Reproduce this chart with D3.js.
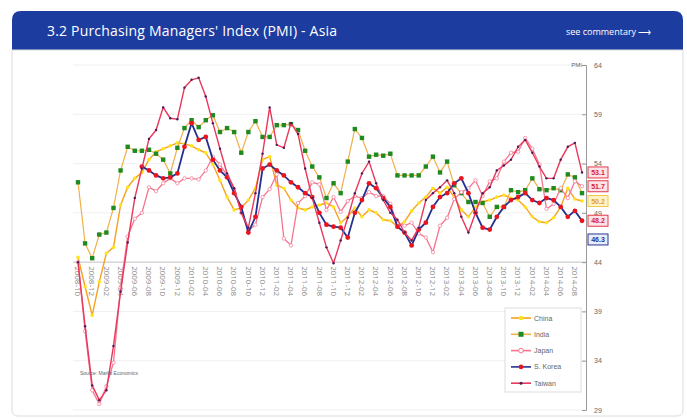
<!DOCTYPE html>
<meta charset="utf-8">
<head>
    <script type="text/javascript" src="https://d3js.org/d3.v7.min.js"></script>
    <style>
        body { margin: 0; background: #fff; font-family: "Open Sans", "Noto Sans", sans-serif; }
    </style>
</head>
<body>
<div id="chart"></div>
<script>
    // categories (monthly, Oct 2008 - Sep 2014)
    var months = [
        "2008-10", "2008-11", "2008-12",
        "2009-01", "2009-02", "2009-03", "2009-04", "2009-05", "2009-06", "2009-07", "2009-08", "2009-09", "2009-10", "2009-11", "2009-12",
        "2010-01", "2010-02", "2010-03", "2010-04", "2010-05", "2010-06", "2010-07", "2010-08", "2010-09", "2010-10", "2010-11", "2010-12",
        "2011-01", "2011-02", "2011-03", "2011-04", "2011-05", "2011-06", "2011-07", "2011-08", "2011-09", "2011-10", "2011-11", "2011-12",
        "2012-01", "2012-02", "2012-03", "2012-04", "2012-05", "2012-06", "2012-07", "2012-08", "2012-09", "2012-10", "2012-11", "2012-12",
        "2013-01", "2013-02", "2013-03", "2013-04", "2013-05", "2013-06", "2013-07", "2013-08", "2013-09", "2013-10", "2013-11", "2013-12",
        "2014-01", "2014-02", "2014-03", "2014-04", "2014-05", "2014-06", "2014-07", "2014-08", "2014-09"
    ];

    var china = [44.5, 41.5, 38.6, 42.0, 44.9, 45.5, 49.8, 51.6, 52.5, 53.1, 54.4, 55.2, 55.5, 55.8, 56.1,
        56.0, 55.8, 55.4, 55.1, 53.9, 52.3, 50.6, 49.3, 49.5, 50.3, 51.5, 54.4, 54.7, 51.8, 51.5, 50.3,
        49.5, 49.3, 49.6, 49.8, 50.0, 49.6, 48.0, 48.6, 49.5, 48.6, 49.3, 49.0, 48.3, 48.2, 47.6, 48.1,
        49.2, 50.0, 50.6, 51.5, 51.0, 51.6, 50.6, 49.3, 48.6, 49.6, 50.1, 50.3, 50.6, 50.8, 50.5, 50.3,
        49.6, 48.6, 48.1, 48.0, 48.5, 49.6, 51.5, 50.4, 50.2];

    var india = [52.1, 45.9, 44.4, 46.8, 47.0, 49.5, 53.3, 55.7, 55.3, 55.3, 55.4, 55.0, 54.4, 53.0, 55.6,
        57.6, 58.4, 57.7, 58.4, 58.9, 57.2, 57.6, 57.2, 55.1, 57.2, 58.3, 56.7, 56.7, 57.9, 57.9, 58.0,
        57.4, 55.3, 53.7, 52.6, 50.5, 52.0, 51.0, 54.2, 57.5, 56.6, 54.7, 54.9, 54.8, 55.0, 52.8, 52.8,
        52.8, 52.8, 53.7, 54.7, 53.1, 54.2, 51.8, 51.0, 50.1, 50.1, 50.0, 48.6, 49.6, 49.6, 51.3, 51.1,
        51.3, 52.5, 51.4, 51.3, 51.5, 51.3, 52.9, 52.6, 51.0];

    var japan = [44.0, 37.0, 31.0, 29.6, 31.4, 33.8, 41.4, 46.6, 48.4, 49.0, 51.6, 51.2, 52.0, 52.5, 52.0,
        52.5, 52.5, 52.4, 53.3, 54.7, 53.9, 52.8, 51.4, 49.0, 47.2, 47.8, 50.6, 51.4, 52.9, 46.4, 45.7,
        50.0, 50.7, 52.1, 51.9, 49.3, 50.6, 49.1, 50.2, 50.7, 50.5, 51.1, 50.7, 50.7, 49.9, 47.9, 47.7,
        48.0, 46.9, 46.5, 45.0, 47.7, 48.5, 50.4, 51.1, 51.5, 52.3, 50.7, 52.2, 52.5, 54.2, 55.1, 55.2,
        56.6, 55.5, 53.9, 49.4, 49.9, 51.5, 50.5, 52.2, 51.7];

    var korea = [null, null, null, null, null, null, null, null, null, 53.7, 53.3, 52.8, 52.5, 52.6, 53.0,
        55.7, 58.1, 56.4, 56.7, 54.4, 53.3, 52.6, 51.0, 49.6, 47.0, 48.6, 53.5, 53.9, 53.3, 52.8, 52.1,
        51.6, 51.0, 50.6, 49.0, 47.8, 47.6, 47.5, 46.5, 49.0, 50.3, 52.0, 51.5, 50.5, 49.6, 47.6, 47.0,
        45.7, 47.3, 48.0, 49.6, 50.6, 51.0, 52.0, 52.5, 51.0, 49.0, 47.5, 47.3, 48.6, 49.6, 50.3, 50.6,
        51.0, 50.3, 50.0, 50.5, 50.3, 49.6, 48.6, 49.2, 48.2];

    var taiwan = [44.0, 37.5, 31.5, 30.0, 31.0, 35.5, 41.0, 46.0, 50.5, 53.5, 56.5, 57.4, 59.7, 58.6, 58.5,
        61.7, 62.5, 62.7, 60.8, 58.1, 55.5, 53.0, 51.5, 49.0, 47.5, 51.0, 55.0, 59.7, 55.9, 55.6, 58.1,
        57.0, 53.5, 50.5, 48.0, 45.5, 43.9, 46.2, 48.5, 51.0, 53.0, 54.2, 52.0, 50.3, 49.0, 48.3, 47.0,
        46.2, 47.5, 50.3, 51.0, 51.6, 52.3, 51.0, 48.6, 47.0, 49.0, 51.0, 51.6, 53.3, 53.8, 54.4, 55.7,
        56.4, 55.1, 53.7, 52.5, 52.5, 54.4, 55.7, 56.1, 53.1];

    var seriesNames = ["China", "India", "Japan", "S. Korea", "Taiwan"];
    var yTicks = [29, 34, 39, 44, 49, 54, 59, 64];
    var endValues = [53.1, 51.7, 50.2, 48.2, 46.3];

    var w = 687, h = 419;
    var svg = d3.select("#chart").append("svg").attr("width", w).attr("height", h);

    // header + panel
    svg.append("path")
        .attr("d", "M12,50 L12,20 Q12,11 21,11 L674,11 Q683,11 683,20 L683,50 Z")
        .attr("fill", "#1d3c9f");
    svg.append("path")
        .attr("d", "M12,50 L683,50 L683,410 Q683,416 677,416 L18,416 Q12,416 12,410 Z")
        .attr("fill", "#fff").attr("stroke", "#dcdcdc");
    svg.append("text").attr("x", 47).attr("y", 36)
        .attr("fill", "#fff").style("font-size", "14px")
        .attr("textLength", 290)
        .text("3.2 Purchasing Managers' Index (PMI) - Asia");
    svg.append("text").attr("x", 566).attr("y", 35)
        .attr("fill", "#fff").style("font-size", "9px")
        .text("see commentary \u27F6");

    var x = d3.scalePoint().domain(months).range([78, 582]);
    var y = d3.scaleLinear().domain([29, 64]).range([410, 65]);

    // grid lines
    svg.append("g").selectAll("line").data(yTicks).enter().append("line")
        .attr("x1", 73).attr("x2", 586)
        .attr("y1", d => y(d)).attr("y2", d => y(d))
        .attr("stroke", "#f0f0f0");

    // category axis crossing at 44
    svg.append("line").attr("x1", 73).attr("x2", 586)
        .attr("y1", y(44)).attr("y2", y(44)).attr("stroke", "#c8c8c8");
    svg.append("g").selectAll("text").data(months.filter((m, i) => i % 2 === 0)).enter().append("text")
        .attr("transform", d => "translate(" + (x(d) - 2.8) + "," + (y(44) + 4) + ") rotate(90)")
        .attr("fill", "#888").style("font-size", "8px")
        .text(d => d);

    // value axis on the right
    var yAxis = svg.append("g").attr("transform", "translate(586,0)")
        .call(d3.axisRight(y).tickValues(yTicks).tickSize(-4).tickPadding(8));
    yAxis.select(".domain").attr("stroke", "#999");
    yAxis.selectAll(".tick line").attr("stroke", "#999");
    yAxis.selectAll("text").attr("fill", "#666").style("font-size", "7px").style("font-family", "Liberation Sans");
    svg.append("text").attr("x", 582).attr("y", y(64) + 2).attr("text-anchor", "end")
        .attr("fill", "#666").style("font-size", "6px").style("font-family", "Liberation Sans").text("PMI");

    var line = d3.line().defined(d => d != null)
        .x((d, i) => x(months[i])).y(d => y(d));

    function drawSeries(data, stroke, width) {
        svg.append("path").datum(data).attr("d", line)
            .attr("fill", "none").attr("stroke", stroke).attr("stroke-width", width);
    }
    function points(data) {
        return data.map((v, i) => ({v: v, m: months[i]})).filter(d => d.v != null);
    }

    // China
    drawSeries(china, "#f6a21e", 1.4);
    svg.append("g").selectAll("circle").data(points(china)).enter().append("circle")
        .attr("cx", d => x(d.m)).attr("cy", d => y(d.v)).attr("r", 1.8).attr("fill", "#ffe41a");

    // India
    drawSeries(india, "#f0b04a", 1.2);
    svg.append("g").selectAll("rect").data(points(india)).enter().append("rect")
        .attr("x", d => x(d.m) - 2.2).attr("y", d => y(d.v) - 2.2)
        .attr("width", 4.4).attr("height", 4.4).attr("fill", "#1f8a1f");

    // Japan
    drawSeries(japan, "#f7748f", 1.3);
    svg.append("g").selectAll("circle").data(points(japan)).enter().append("circle")
        .attr("cx", d => x(d.m)).attr("cy", d => y(d.v)).attr("r", 1.7)
        .attr("fill", "#fff").attr("stroke", "#f7748f").attr("stroke-width", 0.7);

    // S. Korea
    drawSeries(korea, "#24308f", 1.8);
    svg.append("g").selectAll("circle").data(points(korea)).enter().append("circle")
        .attr("cx", d => x(d.m)).attr("cy", d => y(d.v)).attr("r", 2.4).attr("fill", "#e8141e");

    // Taiwan
    drawSeries(taiwan, "#e8385c", 1.4);
    svg.append("g").selectAll("circle").data(points(taiwan)).enter().append("circle")
        .attr("cx", d => x(d.m)).attr("cy", d => y(d.v)).attr("r", 1.2).attr("fill", "#4a1d5a");

    // end value boxes
    var boxStyles = [
        {fill: "#fde3e6", stroke: "#e23a4c", text: "#d8203a"},
        {fill: "#fde3e6", stroke: "#e23a4c", text: "#d8203a"},
        {fill: "#fff4c8", stroke: "#f4c64a", text: "#e8a020"},
        {fill: "#fde3e6", stroke: "#e23a4c", text: "#d8203a"},
        {fill: "#e9ecfb", stroke: "#2a3592", text: "#2a3592"}
    ];
    var boxes = svg.append("g").selectAll("g").data(endValues).enter().append("g")
        .attr("transform", d => "translate(588," + y(d) + ")");
    boxes.append("rect").attr("x", 0).attr("y", -5.5).attr("width", 20).attr("height", 11)
        .attr("fill", (d, i) => boxStyles[i].fill).attr("stroke", (d, i) => boxStyles[i].stroke);
    boxes.append("text").attr("x", 10).attr("y", 2.5).attr("text-anchor", "middle")
        .attr("fill", (d, i) => boxStyles[i].text)
        .style("font-size", "7px").style("font-family", "Liberation Sans").style("font-weight", "bold")
        .text(d => d.toFixed(1));

    // source note
    svg.append("text").attr("x", 80).attr("y", 375).attr("fill", "#666")
        .style("font-size", "5px").style("font-family", "Liberation Sans")
        .text("Source: Markit Economics");

    // legend
    var legendStyles = [
        {stroke: "#f6a21e", mark: "#ffe41a", shape: "circle"},
        {stroke: "#f0b04a", mark: "#1f8a1f", shape: "square"},
        {stroke: "#f7748f", mark: "#fff", shape: "open"},
        {stroke: "#24308f", mark: "#e8141e", shape: "circle"},
        {stroke: "#e8385c", mark: "#4a1d5a", shape: "small"}
    ];
    var lg = svg.append("g").attr("transform", "translate(505,308)");
    lg.append("rect").attr("width", 76).attr("height", 84).attr("fill", "#fff").attr("stroke", "#ddd");
    var items = lg.selectAll("g").data(seriesNames).enter().append("g")
        .attr("transform", (d, i) => "translate(0," + (10 + i * 16.3) + ")");
    items.append("line").attr("x1", 6).attr("x2", 26)
        .attr("stroke", (d, i) => legendStyles[i].stroke).attr("stroke-width", 1.6);
    items.each(function (d, i) {
        var s = legendStyles[i], g = d3.select(this);
        if (s.shape === "square") {
            g.append("rect").attr("x", 13.5).attr("y", -2.5).attr("width", 5).attr("height", 5).attr("fill", s.mark);
        } else {
            g.append("circle").attr("cx", 16).attr("r", s.shape === "small" ? 1.5 : 2.3)
                .attr("fill", s.mark).attr("stroke", s.shape === "open" ? s.stroke : "none");
        }
    });
    items.append("text").attr("x", 29).attr("y", 2.5).attr("fill", "#666")
        .style("font-size", "7px").style("font-family", "Liberation Sans")
        .text(d => d);
</script>
</body>
